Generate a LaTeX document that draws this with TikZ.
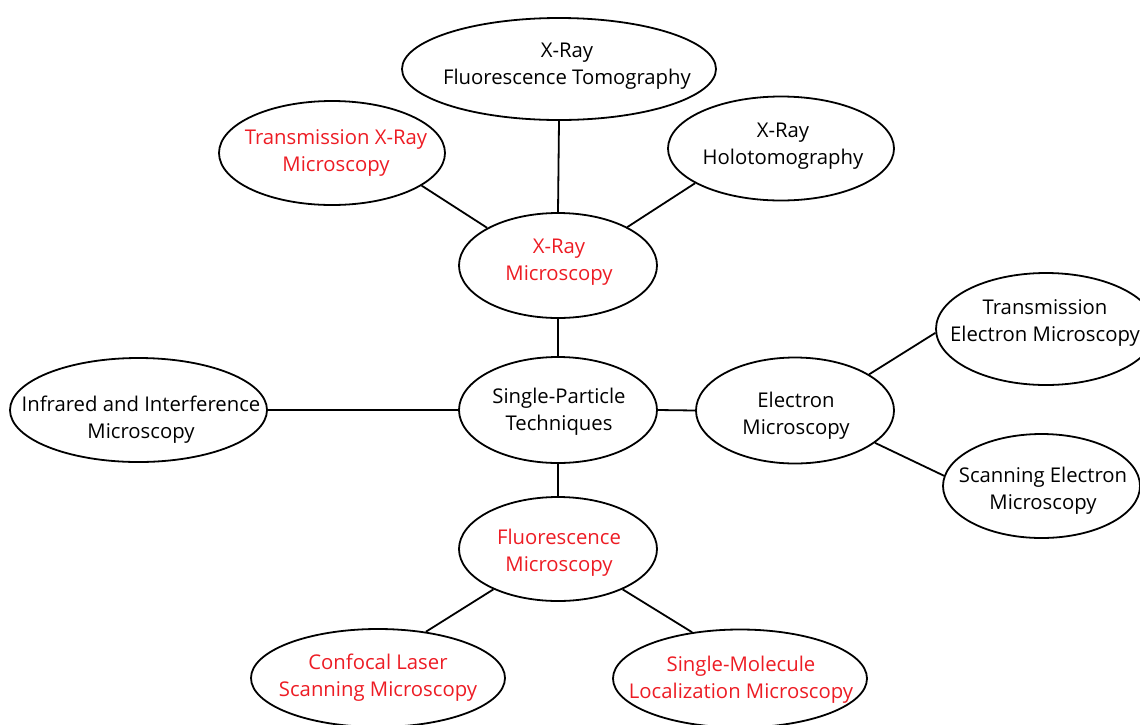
\documentclass[tikz,border=0pt]{standalone}
\usepackage{fontspec}
\setmainfont{Open Sans}
\usetikzlibrary{shapes.geometric}
\definecolor{lblred}{RGB}{237,28,36}
\tikzset{
  bub/.style={ellipse, draw=black, line width=1.8pt, inner sep=0pt},
  lbl/.style={align=center, inner sep=0pt, font=\fontsize{20.3}{27}\selectfont, text=black},
  redtxt/.style={text=lblred},
  link/.style={draw=black, line width=1.8pt},
}
\begin{document}
\begin{tikzpicture}[x=1pt,y=-1pt]
\useasboundingbox (0,0) rectangle (1140,724);
% ellipses
\node[bub, minimum width=314pt, minimum height=102pt] (xft) at (559,69) {};
\node[bub, minimum width=226pt, minimum height=104pt] (txm) at (332,153) {};
\node[bub, minimum width=226pt, minimum height=104pt] (holo) at (781,148.5) {};
\node[bub, minimum width=198pt, minimum height=105pt] (xm) at (558,265.5) {};
\node[bub, minimum width=198pt, minimum height=106pt] (sp) at (558,410) {};
\node[bub, minimum width=257pt, minimum height=104pt] (ir) at (138.5,410) {};
\node[bub, minimum width=198pt, minimum height=106pt] (em) at (795,410.5) {};
\node[bub, minimum width=220pt, minimum height=112pt] (tem) at (1046,329) {};
\node[bub, minimum width=197pt, minimum height=104pt] (sem) at (1041.5,486) {};
\node[bub, minimum width=198pt, minimum height=104pt] (fm) at (558,549) {};
\node[bub, minimum width=254pt, minimum height=98pt] (clsm) at (378,678) {};
\node[bub, minimum width=254pt, minimum height=98pt] (smlm) at (740,678.5) {};
% labels
\node[lbl] (xft-t) at (567,66) {X-Ray\\Fluorescence Tomography};
\node[lbl, redtxt] (txm-t) at (336,153) {Transmission X-Ray\\Microscopy};
\node[lbl] (holo-t) at (783,146) {X-Ray\\Holotomography};
\node[lbl, redtxt] (xm-t) at (559,262) {X-Ray\\Microscopy};
\node[lbl] (sp-t) at (559,412) {Single-Particle\\Techniques};
\node[lbl] (ir-t) at (141,420) {Infrared and Interference\\Microscopy};
\node[lbl] (em-t) at (796,416) {Electron\\Microscopy};
\node[lbl] (tem-t) at (1045,323) {Transmission\\Electron Microscopy};
\node[lbl] (sem-t) at (1043,491) {Scanning Electron\\Microscopy};
\node[lbl, redtxt] (fm-t) at (559,553) {Fluorescence\\Microscopy};
\node[lbl, redtxt] (clsm-t) at (378,678) {Confocal Laser\\Scanning Microscopy};
\node[lbl, redtxt] (smlm-t) at (741,680) {Single-Molecule\\Localization Microscopy};
% connectors
\draw[link] (xm.north) -- (xft.south);
\draw[link] (xm.152.8) -- (txm.-20.3);
\draw[link] (xm.29.2) -- (holo.202.9);
\draw[link] (sp.north) -- (xm.south);
\draw[link] (ir.east) -- (sp.west);
\draw[link] (sp.east) -- (em.west);
\draw[link] (em.26.9) -- (tem.182.6);
\draw[link] (em.-22.4) -- (sem.174.2);
\draw[link] (sp.south) -- (fm.north);
\draw[link] (fm.212.2) -- (clsm.44.4);
\draw[link] (fm.-32.6) -- (smlm.136.5);
\end{tikzpicture}
\end{document}
